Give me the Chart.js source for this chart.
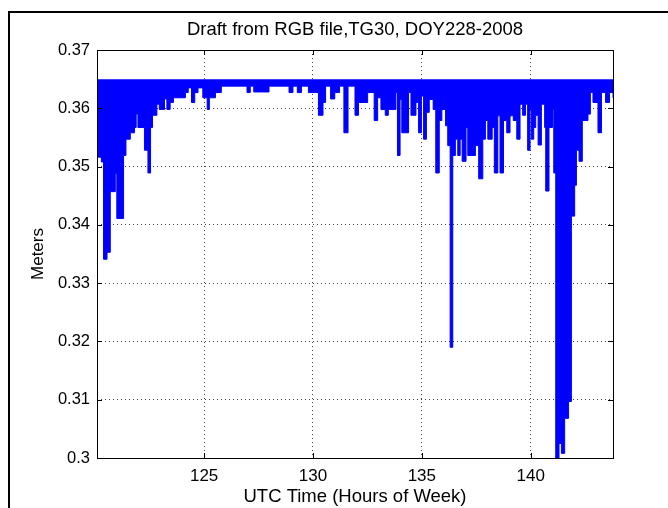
<!DOCTYPE html>
<html>
<head>
<meta charset="utf-8">
<script src="https://cdn.jsdelivr.net/npm/chart.js@4.4.1/dist/chart.umd.min.js"></script>
<style>
  html, body { margin: 0; padding: 0; background: #fff; }
  canvas { display: block; }
</style>
</head>
<body>
<canvas id="draftChart" width="668" height="508"></canvas>
<script>
// lower edge of the draft trace (hour where a step starts, metres)
var stepHours = [
  120.08, 120.15, 120.28, 120.38, 120.54, 120.69, 120.92, 120.99, 121.30, 121.41,
  121.61, 121.80, 121.88, 121.96, 122.26, 122.42, 122.54, 122.63, 122.83, 122.94,
  123.18, 123.29, 123.44, 123.59,
  124.14, 124.27, 124.42, 124.57, 124.72, 124.94, 125.14, 125.24, 125.52, 125.79,
  126.97, 127.12, 127.28,
  127.98, 128.90, 129.08, 129.28, 129.47, 129.79, 130.25, 130.46, 130.58, 130.81,
  131.00, 131.22, 131.42, 131.61, 131.93,
  132.09, 132.51, 132.81, 132.97, 133.12, 133.32, 133.46, 133.81, 133.88, 134.00,
  134.08, 134.39, 134.50, 134.73, 134.85, 134.98, 135.08, 135.21, 135.34, 135.52,
  135.64, 135.80, 135.92,
  136.09, 136.19, 136.30, 136.42, 136.54, 136.65, 136.76, 136.85, 137.03, 137.11,
  137.46, 137.61, 137.80, 137.92, 138.03, 138.23, 138.33, 138.49, 138.59, 138.75,
  138.90, 139.05, 139.20, 139.36, 139.51, 139.63, 139.76, 139.86,
  139.97, 140.03, 140.14, 140.23, 140.34, 140.49, 140.64, 140.69, 140.84, 141.00,
  141.06, 141.15, 141.30, 141.41, 141.56, 141.74, 141.87, 142.02, 142.10, 142.22,
  142.37, 142.63, 142.74, 142.86, 143.09, 143.25, 143.44, 143.62, 143.78
];
var stepDraft = [
  0.3528, 0.3516, 0.3508, 0.3341, 0.3353, 0.3457, 0.3488, 0.3411, 0.3519, 0.3547,
  0.3558, 0.3567, 0.3590, 0.3567, 0.3528, 0.3489, 0.3567, 0.3588, 0.3607, 0.3598,
  0.3616, 0.3598, 0.3610, 0.3618,
  0.3627, 0.3635, 0.3610, 0.3627, 0.3635, 0.3618, 0.3598, 0.3618, 0.3627, 0.3638,
  0.3627, 0.3638, 0.3628,
  0.3638, 0.3627, 0.3638, 0.3627, 0.3638, 0.3627, 0.3588, 0.3610, 0.3638, 0.3616,
  0.3627, 0.3638, 0.3558, 0.3638, 0.3588,
  0.3610, 0.3627, 0.3579, 0.3618, 0.3598, 0.3588, 0.3598, 0.3627, 0.3519, 0.3615,
  0.3558, 0.3627, 0.3588, 0.3610, 0.3558, 0.3621, 0.3547, 0.3593, 0.3615, 0.3598,
  0.3489, 0.3579, 0.3598,
  0.3570, 0.3536, 0.3190, 0.3519, 0.3547, 0.3519, 0.3547, 0.3509, 0.3567, 0.3519,
  0.3536, 0.3479, 0.3547, 0.3579, 0.3547, 0.3567, 0.3489, 0.3587, 0.3489, 0.3579,
  0.3558, 0.3587, 0.3579, 0.3547, 0.3607, 0.3588, 0.3607, 0.3528,
  0.3598, 0.3547, 0.3567, 0.3588, 0.3537, 0.3607, 0.3567, 0.3458, 0.3567, 0.3598,
  0.3489, 0.2990, 0.3025, 0.3008, 0.3068, 0.3097, 0.3415, 0.3468, 0.3528, 0.3509,
  0.3579, 0.3590, 0.3627, 0.3610, 0.3558, 0.3627, 0.3610, 0.3627, 0.3618
];
var topDraft = 0.365;
var xTicks = [125, 130, 135, 140];
var yTicks = [0.30, 0.31, 0.32, 0.33, 0.34, 0.35, 0.36, 0.37];

var points = [];
for (var i = 0; i < stepHours.length; i++) {
  points.push({x: stepHours[i], y: stepDraft[i]});
}

var FONT = "'Liberation Sans', Arial, sans-serif";

// matlab style box, inward ticks and the outer frame of the figure
var matlabBox = {
  id: 'matlabBox',
  beforeDraw: function (chart) {
    var ctx = chart.ctx;
    ctx.save();
    ctx.fillStyle = '#fff';
    ctx.fillRect(0, 0, chart.width, chart.height);
    ctx.fillStyle = '#000';
    ctx.fillRect(8, 11, 2, chart.height - 11);
    ctx.fillRect(8, 11, chart.width - 8, 2);
    ctx.restore();
  },
  afterDraw: function (chart) {
    var ctx = chart.ctx, a = chart.chartArea;
    var xs = chart.scales.x, ys = chart.scales.y;
    ctx.save();
    ctx.strokeStyle = '#000';
    ctx.lineWidth = 1;
    ctx.strokeRect(Math.round(a.left) + 0.5, Math.round(a.top) + 0.5,
                   Math.round(a.right - a.left), Math.round(a.bottom - a.top));
    ctx.beginPath();
    xTicks.forEach(function (t) {
      var px = Math.round(xs.getPixelForValue(t)) + 0.5;
      ctx.moveTo(px, a.bottom); ctx.lineTo(px, a.bottom - 5);
      ctx.moveTo(px, a.top); ctx.lineTo(px, a.top + 5);
    });
    yTicks.forEach(function (t) {
      var py = Math.round(ys.getPixelForValue(t)) + 0.5;
      ctx.moveTo(a.left, py); ctx.lineTo(a.left + 5, py);
      ctx.moveTo(a.right, py); ctx.lineTo(a.right - 5, py);
    });
    ctx.stroke();
    ctx.restore();
  }
};

var ctx = document.getElementById('draftChart');
var draftChart = new Chart(ctx, {
  type: 'line',
  data: {
    datasets: [{
      label: 'Draft',
      data: points,
      stepped: 'before',
      borderColor: '#0000ff',
      backgroundColor: '#0000ff',
      borderWidth: 1,
      pointRadius: 0,
      fill: {value: topDraft}
    }]
  },
  options: {
    responsive: false,
    animation: false,
    layout: {padding: {left: 0, right: 55, top: 0, bottom: 0}},
    plugins: {
      legend: {display: false},
      tooltip: {enabled: false},
      title: {
        display: true,
        fullSize: false,
        text: 'Draft from RGB file,TG30, DOY228-2008',
        color: '#000',
        font: {family: FONT, size: 18.5, weight: 'normal'},
        padding: {top: 19, bottom: 8.8}
      }
    },
    scales: {
      x: {
        type: 'linear',
        min: 120.08,
        max: 143.78,
        z: 1,
        afterFit: function (s) { s.height = 50; },
        ticks: {
          stepSize: 5,
          includeBounds: false,
          padding: 8,
          color: '#000',
          font: {family: FONT, size: 17}
        },
        grid: {color: 'rgba(0,0,0,0.75)', drawTicks: false},
        border: {display: false, dash: [1, 3]},
        title: {
          display: true,
          text: 'UTC Time (Hours of Week)',
          color: '#000',
          font: {family: FONT, size: 18.5},
          padding: {top: 0, bottom: 0}
        }
      },
      y: {
        type: 'linear',
        min: 0.30,
        max: 0.37,
        z: 1,
        afterFit: function (s) { s.width = 97; },
        ticks: {
          stepSize: 0.01,
          padding: 7,
          color: '#000',
          font: {family: FONT, size: 16.5},
          callback: function (v) { return String(+v.toFixed(2)); }
        },
        grid: {color: 'rgba(0,0,0,0.75)', drawTicks: false},
        border: {display: false, dash: [1, 3]},
        title: {
          display: true,
          text: 'Meters',
          color: '#000',
          font: {family: FONT, size: 17},
          padding: {top: 28, bottom: 0}
        }
      }
    }
  },
  plugins: [matlabBox]
});
</script>
</body>
</html>
